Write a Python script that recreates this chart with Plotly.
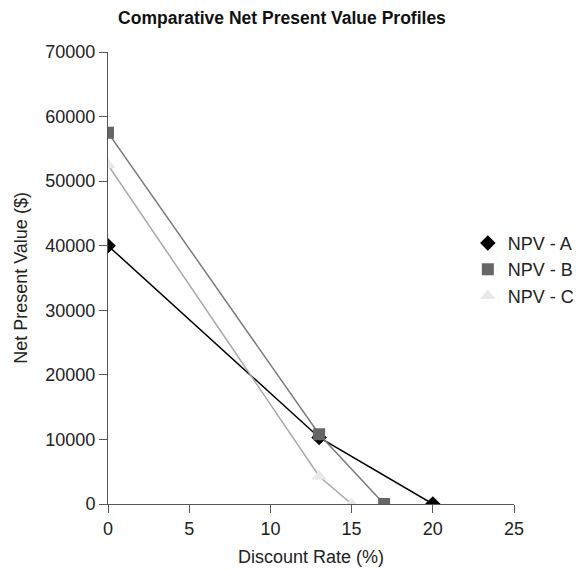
import plotly.graph_objects as go

rates_A = [0, 13, 20]
npv_A = [40000, 10300, 0]
rates_B = [0, 13, 17]
npv_B = [57500, 10800, 0]
rates_C = [0, 13, 15]
npv_C = [52500, 4300, 0]

series = [
    ("NPV - A", rates_A, npv_A, "#000000", "#000000", "diamond", 12),
    ("NPV - B", rates_B, npv_B, "#7a7a7a", "#666666", "square", 12),
    ("NPV - C", rates_C, npv_C, "#a8a8a8", "#e8e8e8", "triangle-up", 13),
]

fig = go.Figure()
for name, xs, ys, lc, mc, sym, sz in series:
    fig.add_trace(go.Scatter(x=xs, y=ys, mode="lines", showlegend=False, hoverinfo="skip",
                             line=dict(color=lc, width=1.5)))
for name, xs, ys, lc, mc, sym, sz in series:
    fig.add_trace(go.Scatter(x=xs, y=ys, name=name, mode="markers",
                             marker=dict(symbol=sym, size=sz, color=mc)))

axis_common = dict(showline=True, linecolor="#555555", linewidth=1, ticks="outside",
                   ticklen=8, tickcolor="#555555", showgrid=False, zeroline=False,
                   tickfont=dict(size=18, color="#222222"))
fig.update_layout(
    width=579, height=569,
    margin=dict(l=108, r=65, t=52, b=65, autoexpand=False),
    paper_bgcolor="white", plot_bgcolor="white",
    font=dict(family="Liberation Sans, Arial, sans-serif", color="#222222"),
    title=dict(text="<b>Comparative Net Present Value Profiles</b>", x=0.487, xanchor="center",
               y=0.968, yanchor="middle", font=dict(size=17.5, color="#111111")),
    xaxis=dict(range=[0, 25], tickvals=[0, 5, 10, 15, 20, 25],
               title=dict(text="Discount Rate (%)", font=dict(size=18), standoff=12), **axis_common),
    yaxis=dict(range=[0, 70000], tickvals=[0, 10000, 20000, 30000, 40000, 50000, 60000, 70000],
               tickformat="d",
               title=dict(text="Net Present Value ($)", font=dict(size=18), standoff=13), **axis_common),
    legend=dict(xref="container", yref="container", x=0.808, y=0.605, xanchor="left", yanchor="top",
                font=dict(size=18), bgcolor="rgba(0,0,0,0)", tracegroupgap=0, itemwidth=30),
    showlegend=True,
)
fig.write_html("out.html")
